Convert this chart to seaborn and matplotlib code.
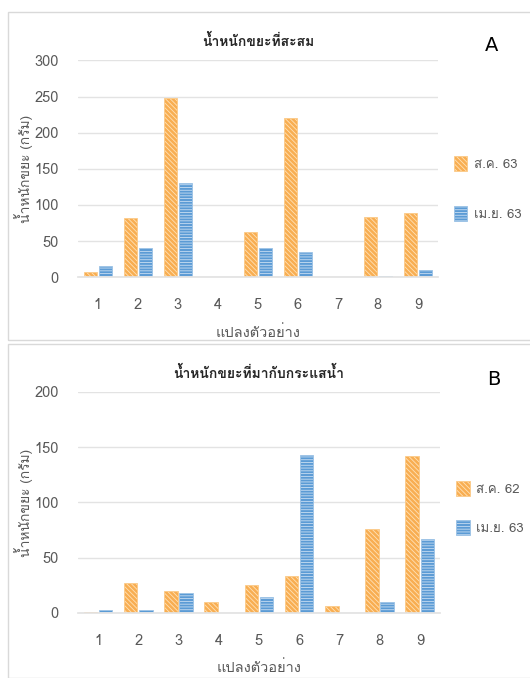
import numpy as np
import pandas as pd
import seaborn as sns
import matplotlib.pyplot as plt
from matplotlib import font_manager
from matplotlib.colors import to_rgba
from matplotlib.ft2font import FT2Font
from matplotlib.patches import Patch, Rectangle

plots = ['1', '2', '3', '4', '5', '6', '7', '8', '9']

# panel A: accumulated litter weight
a_aug63 = [7, 82, 248, 0, 62, 220, 0, 84, 89]
a_apr63 = [16, 41, 130, 0, 41, 35, 0, 2, 10]

# panel B: litter carried by the current
b_aug62 = [1, 27, 20, 10, 25, 33, 6, 76, 142]
b_apr63 = [3, 3, 18, 0, 14, 143, 0, 10, 67]


def find_thai_font():
    for f in font_manager.fontManager.ttflist:
        try:
            if 0x0E01 in FT2Font(f.fname).get_charmap():
                return f.name
        except Exception:
            pass
    return 'DejaVu Sans'


sns.set_theme(style='white')
thai = find_thai_font()
plt.rcParams['font.family'] = [thai, 'DejaVu Sans']
plt.rcParams['hatch.linewidth'] = 0.6

grey = '#595959'
# (face, edge, hatch colour, hatch)
orange = ('#F8AE52', '#FBCB8A', '#FFE2B8', '\\\\\\\\\\\\\\')
blue = ('#5B9BD5', '#9DC3E6', '#C9DEF2', '------')


def style_patch(p, style):
    face, edge, hcol, hatch = style
    p.set_facecolor(face)
    p.set_edgecolor(edge)
    p.set_hatch(hatch)
    p.set_linewidth(0.6)
    p._hatch_color = to_rgba(hcol)


def draw_panel(ax, s1, s2, lab1, lab2, title, letter, letter_y, ymax, ystep, leg_y, leg_space):
    df = pd.DataFrame({
        'plot': plots * 2,
        'weight': s1 + s2,
        'period': [lab1] * len(plots) + [lab2] * len(plots),
    })
    sns.barplot(data=df, x='plot', y='weight', hue='period', ax=ax,
                width=0.75, gap=0.1, legend=False,
                palette=[orange[0], blue[0]], saturation=1)
    n = len(plots)
    for i, p in enumerate(ax.patches[:2 * n]):
        style_patch(p, orange if i < n else blue)

    ax.set_xlim(-0.5, n - 0.5)
    ax.set_ylim(0, ymax)
    ax.set_yticks(np.arange(0, ymax + 1, ystep))
    ax.yaxis.grid(True, color='#E3E3E3', linewidth=1)
    ax.set_axisbelow(True)
    for s in ['left', 'right', 'top']:
        ax.spines[s].set_visible(False)
    ax.spines['bottom'].set_color('#E3E3E3')
    ax.tick_params(axis='both', length=0, labelsize=10.5, colors=grey)
    ax.tick_params(axis='x', pad=15)
    ax.tick_params(axis='y', pad=14)
    ax.set_xlabel('แปลงตัวอย่าง', fontsize=10.5, color=grey, labelpad=9)
    ax.set_ylabel('น้ำหนักขยะ (กรัม)', fontsize=10, color=grey, labelpad=1)
    ax.set_title(title, fontsize=10, fontweight='bold', color='#262626', pad=10)
    ax.text(1.15, letter_y, letter, transform=ax.transAxes, fontsize=14,
            color='black', ha='center', va='center', family='DejaVu Sans')

    handles = []
    for st in [orange, blue]:
        h = Patch(facecolor=st[0], edgecolor=st[1], hatch=st[3], linewidth=0.6)
        h._hatch_color = to_rgba(st[2])
        handles.append(h)
    leg = ax.legend(handles, [lab1, lab2], loc='center left', bbox_to_anchor=(1.02, leg_y),
                    frameon=False, fontsize=9.5, handlelength=1.0, handleheight=1.4,
                    labelspacing=leg_space, handletextpad=0.5, borderpad=0.2)
    for t in leg.get_texts():
        t.set_color(grey)


fig = plt.figure(figsize=(5.3, 6.78), dpi=100)
ax_a = fig.add_axes([0.147, 0.591, 0.679, 0.320])
ax_b = fig.add_axes([0.147, 0.096, 0.683, 0.326])

draw_panel(ax_a, a_aug63, a_apr63, 'ส.ค. 63', 'เม.ย. 63', 'น้ำหนักขยะที่สะสม',
           'A', 1.07, 300, 50, 0.41, 2.6)
draw_panel(ax_b, b_aug62, b_apr63, 'ส.ค. 62', 'เม.ย. 63', 'น้ำหนักขยะที่มากับกระแสน้ำ',
           'B', 1.055, 200, 50, 0.475, 1.8)

# grey frames round the two panels
fig.patches.append(Rectangle((8 / 530, 1 - 340 / 678), 1, 328 / 678, transform=fig.transFigure,
                             fill=False, edgecolor='#D9D9D9', linewidth=1))
fig.patches.append(Rectangle((8 / 530, 0), 1, 334 / 678, transform=fig.transFigure,
                             fill=False, edgecolor='#D9D9D9', linewidth=1))

fig.savefig('out.png', dpi=100)
